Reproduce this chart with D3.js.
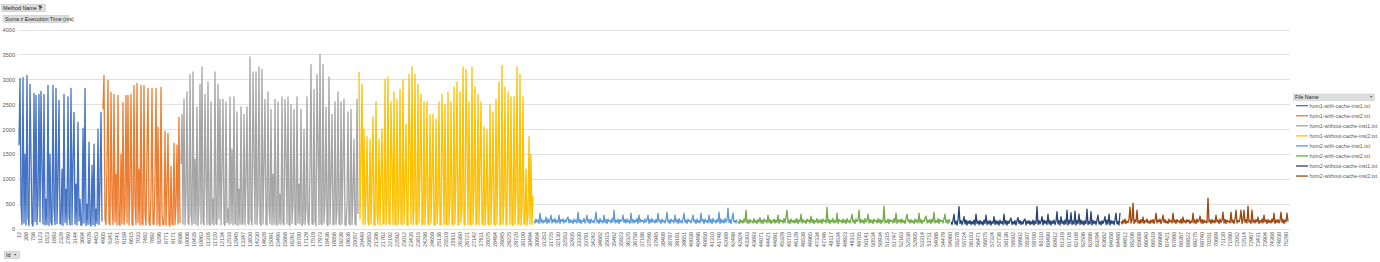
<!DOCTYPE html>
<html>
<head>
  <meta charset="utf-8"/>
  <title>Execution time</title>
  <style>
    body { margin: 0; background: #fff; }
    text { font-family: "Liberation Sans", Arial, sans-serif; }
  </style>
</head>
<body>
    <div id="graph"></div>
<script src="https://cdnjs.cloudflare.com/ajax/libs/d3/7.8.5/d3.min.js"></script>
<script>
    //series names and colours (legend order)
    var fileNames = ["hom1-with-cache-inst1.txt", "hom1-with-cache-inst2.txt",
                     "hom1-without-cache-inst1.txt", "hom1-without-cache-inst2.txt",
                     "hom2-with-cache-inst1.txt", "hom2-with-cache-inst2.txt",
                     "hom2-without-cache-inst1.txt", "hom2-without-cache-inst2.txt"];
    var colors = ["#4472c4", "#ed7d31", "#a5a5a5", "#ffc000",
                  "#5b9bd5", "#70ad47", "#264478", "#9e480e"];

    //execution time (ms), one value per id
    var hom1WithCacheInst1 = [
      1680,3020,520,90,3040,120,1500,80,3080,240,
      70,2900,1450,110,60,2720,150,2680,90,620,
      2700,140,2760,1200,100,2700,80,600,90,2880,
      70,1500,130,80,2880,400,90,2820,110,980,
      2580,120,90,1200,70,2700,130,800,90,2650,
      260,80,2820,90,1400,2340,100,900,80,2140,
      160,600,70,90,2020,120,2820,70,500,90,
      1740,120,60,1280,90,1700,60,400,110,2000,
      90,900,2340,150];
    var hom1WithCacheInst2 = [
      2400,3080,200,90,1300,2980,120,80,2740,600,
      90,2700,140,1100,80,2680,100,70,1500,110,
      2540,90,400,2680,120,2680,80,900,2700,100,
      70,2880,500,90,2920,130,1200,80,2880,100,
      90,2880,300,80,1600,2820,120,70,700,2820,
      100,90,1000,2820,80,2040,120,60,2840,300,
      80,100,1960,70,800,1920,90,60,1260,110,
      80,1720,90,500,1680,100,2240,120];
    var hom1WithoutCacheInst1 = [
      1300,2300,100,2600,80,700,2750,120,90,3100,
      300,80,3150,110,1400,90,2450,70,500,2900,
      100,3250,140,80,2700,1000,90,2950,120,70,
      2550,100,600,80,3150,110,90,2900,200,2600,
      80,1200,2600,100,70,2550,130,400,90,2650,
      110,1600,80,2650,120,90,2350,70,800,100,
      2450,90,130,2300,80,1000,2450,110,90,3450,
      200,80,3150,1500,100,3150,90,600,3250,120,
      70,3200,100,1300,2600,90,80,2750,400,110,
      2400,80,1100,90,2600,120,70,2550,100,700,
      90,2650,130,80,2600,1400,100,2650,90,70,
      2500,110,500,2400,90,80,2650,120,900,100,
      2400,70,110,2000,90,400,2650,130,80,1200,
      3300,100,90,2800,150,70,3100,1700,90,3500,
      110,80,3300,120,600,2450,90,70,3050,100,
      1000,2300,80,110,2550,90,400,2750,120,80,
      2550,100,1300,2600,90,70,500,2350,110,80,
      2400,90,700,1800,100,80,2600,300];
    var hom1WithoutCacheInst2 = [
      3150,200,1500,2900,100,2000,90,700,1850,120,
      80,1800,100,900,2250,90,70,2550,300,100,
      1800,80,1100,2000,90,120,3000,80,600,3050,
      100,90,2550,1300,80,2750,110,70,2600,90,
      500,2800,120,80,3000,100,900,2100,90,70,
      3100,1600,110,3250,80,400,3100,100,90,2900,
      130,1200,2700,80,110,2550,90,700,2550,100,
      80,2300,120,1000,2300,90,70,2200,110,500,
      2550,80,100,2700,1400,90,2500,110,80,2750,
      90,600,2550,120,70,2850,100,1100,2950,80,
      90,2750,130,400,3250,100,80,3200,1700,90,
      2550,110,70,3250,100,800,2850,90,120,2700,
      80,1300,2550,100,90,2050,70,500,2000,110,
      80,2500,90,900,2350,120,70,2600,100,1500,
      2950,80,110,3280,90,600,2850,100,80,2750,
      1200,90,2650,110,70,2650,100,800,3250,90,
      120,3100,80,400,2650,100,90,1200,80,300,
      1850,100,1500,90,650];
    var hom2WithCacheInst1 = [
      160,120,200,140,180,110,320,130,190,120,
      170,140,240,110,200,130,180,280,120,190,
      140,210,120,170,130,280,110,190,150,200,
      120,180,140,210,240,120,190,130,170,110,
      200,140,180,120,340,130,190,110,170,150,
      210,120,180,280,130,190,110,200,140,170,
      120,190,340,130,180,110,210,140,170,120,
      280,130,190,110,200,150,170,120,210,140,
      380,120,180,130,200,110,190,150,170,280,
      130,190,120,200,140,170,110,320,130,190,
      120,180,140,210,110,280,130,190,150,170,
      120,200,140,180,280,110,190,130,210,140,
      170,120,190,130,320,150,180,110,200,140,
      170,120,190,340,130,180,110,200,150,170,
      120,280,140,190,110,210,130,170,120,190,
      320,130,180,110,200,150,170,120,190,280,
      140,180,110,200,130,170,120,320,150,190,
      110,200,140,170,120,280,130,190,110,210,
      150,170,120,190,140,340,110,200,130,180,
      120,210,140,170,420,130,190,110,200,320,
      140,170,120,190];
    var hom2WithCacheInst2 = [
      150,110,190,130,170,120,200,140,380,120,
      180,110,190,140,160,120,210,130,170,110,
      190,140,230,120,180,110,200,150,170,120,
      280,130,190,110,170,140,200,120,180,130,
      280,110,190,150,170,120,210,130,240,380,
      120,180,110,200,140,170,120,190,130,210,
      110,180,140,300,120,190,130,170,110,200,
      150,180,120,260,130,190,110,170,140,210,
      120,180,130,190,110,200,150,170,120,440,
      130,190,110,180,140,210,120,170,130,320,
      110,190,150,170,120,200,130,180,110,210,
      140,170,120,190,300,130,180,110,200,150,
      170,380,120,190,130,180,110,210,140,170,
      300,120,190,130,180,110,200,150,170,120,
      210,130,190,110,180,140,460,120,170,130,
      200,110,190,150,170,120,210,130,320,110,
      180,140,190,120,200,130,170,110,210,300,
      150,180,120,190,130,170,110,200,140,180,
      120,320,130,190,110,170,150,210,260,120,
      180,130,190,110,200,140,340,120,170,130,
      210,110,190,150,170,120,200,300,130,180,
      110,190,140];
    var hom2WithoutCacheInst1 = [
      140,90,170,300,100,160,80,180,450,110,
      170,90,150,250,100,180,80,160,110,170,
      90,150,100,180,80,300,110,160,90,170,
      100,150,80,180,110,280,90,160,100,170,
      80,150,110,250,90,170,100,160,80,180,
      110,150,90,300,100,170,80,160,110,180,
      220,90,150,100,170,80,160,230,110,170,
      90,150,100,180,200,80,160,110,170,90,
      150,100,180,80,160,110,450,90,170,100,
      150,250,80,180,110,160,90,300,100,170,
      80,160,110,180,90,150,350,100,170,80,
      250,110,160,90,180,100,380,80,170,110,
      330,90,160,100,360,80,170,110,300,90,
      180,100,160,80,170,110,400,90,150,100,
      350,80,170,110,160,90,180,280,100,150,
      80,170,110,160,250,90,180,100,300,80,
      170,110,160,90,180,320,100,150,80,320];
    var hom2WithoutCacheInst2 = [
      150,100,180,120,200,110,160,130,190,440,
      120,170,520,110,180,140,380,120,170,110,
      190,130,240,110,170,140,200,120,160,110,
      180,130,190,110,170,320,120,180,140,200,
      110,170,280,130,190,120,160,110,200,140,
      170,120,320,130,180,110,190,140,160,120,
      200,110,240,130,170,120,190,140,180,110,
      160,130,320,120,180,110,200,140,170,260,
      120,190,110,180,130,160,120,620,140,180,
      110,190,130,170,120,280,140,180,110,200,
      130,170,340,120,190,110,180,140,160,120,
      340,130,180,110,190,380,120,170,140,200,
      380,110,180,380,130,190,120,460,140,170,
      110,380,130,180,120,190,140,240,110,170,
      130,200,120,280,140,180,110,190,130,170,
      120,200,140,320,110,180,130,190,120,170,
      340,130,190,110,180,140,320,150];

    //id labels shown on the category axis (every 7th id)
    var tickLabels = [
      12,388,756,1123,1523,1893,2328,2760,3144,3604,
      4076,4453,4905,5341,5741,6159,6615,7033,7482,7892,
      8296,8771,9171,9596,10006,10435,10863,11316,11720,12134,
      12533,12945,13347,13830,14230,14628,15091,15495,15868,16261,
      16700,17129,17519,17973,18436,18856,19236,19636,20057,20440,
      20853,21306,21762,22192,22592,23012,23435,23815,24298,24659,
      25136,25519,25911,26360,26721,27142,27611,28075,28464,28845,
      29225,29720,30109,30494,30954,31353,31725,32130,32553,32935,
      33330,33791,34242,34682,35015,35462,35923,36325,36758,37186,
      37546,37945,38408,38797,39181,39651,40038,40496,40850,41310,
      41746,42089,42498,42924,43303,43693,44071,44421,44891,45329,
      45710,46129,46538,46965,47334,47746,48117,48534,48923,49311,
      49705,50141,50534,50934,51315,51747,52163,52538,52905,53314,
      53711,54086,54479,54860,55278,55724,56103,56471,56875,57324,
      57736,58136,58502,58902,59307,59700,60110,60490,60912,61319,
      61716,62108,62506,62886,63294,63682,64058,64480,64812,65206,
      65608,66040,66519,66968,67421,67890,68367,68822,69275,69740,
      70201,70669,71130,71590,72052,72514,72967,73431,73904,74368,
      74830,75290];
    var labelEvery = 7;
    var yTicks = [0, 500, 1000, 1500, 2000, 2500, 3000, 3500, 4000];

    var series = [hom1WithCacheInst1, hom1WithCacheInst2, hom1WithoutCacheInst1, hom1WithoutCacheInst2,
                  hom2WithCacheInst1, hom2WithCacheInst2, hom2WithoutCacheInst1, hom2WithoutCacheInst2];
    var offsets = [], total = 0;
    series.forEach(function(s) { offsets.push(total); total += s.length; });

    var width = 1380, height = 262;
    var svg = d3.select("#graph").append("svg")
                .attr("width", width)
                .attr("height", height);

    var x = d3.scalePoint()
          .domain(d3.range(total))
          .range([19, 1288]);
    var y = d3.scaleLinear()
          .domain([0, 4000])
          .range([229, 29.5]);

    // gridlines
    svg.append("g").selectAll("line").data(yTicks).enter().append("line")
        .attr("x1", 18).attr("x2", 1290)
        .attr("y1", function(d) { return Math.round(y(d)) + 0.5; })
        .attr("y2", function(d) { return Math.round(y(d)) + 0.5; })
        .style("stroke", "#d9d9d9")
        .style("stroke-width", 0.8);

    // y axis labels
    var yAxis = svg.append("g")
        .attr("transform", "translate(15,0)")
        .call(d3.axisLeft(y).tickValues(yTicks).tickFormat(d3.format("d"))
              .tickSize(0).tickPadding(0));
    yAxis.select(".domain").remove();
    yAxis.selectAll("text")
        .style("font-size", "5.6px")
        .style("fill", "#595959")
        .style("font-family", "'Liberation Sans', Arial, sans-serif");

    // x axis (id categories)
    var tickIdx = tickLabels.map(function(d, i) { return i * labelEvery; });
    var xAxis = svg.append("g")
        .attr("transform", "translate(0,229)")
        .call(d3.axisBottom(x).tickValues(tickIdx)
              .tickFormat(function(d) { return tickLabels[d / labelEvery]; })
              .tickSize(0));
    xAxis.select(".domain").remove();
    xAxis.selectAll("text")
        .attr("transform", "rotate(-90)")
        .attr("x", -3)
        .attr("y", 0)
        .attr("dy", "0.35em")
        .style("text-anchor", "end")
        .style("font-size", "5.4px")
        .style("fill", "#595959")
        .style("font-family", "'Liberation Sans', Arial, sans-serif");

    // lines
    series.forEach(function(s, k) {
      var line = d3.line()
          .x(function(d, i) { return x(offsets[k] + i); })
          .y(function(d) { return y(d); });
      svg.append("path")
          .datum(s)
          .attr("d", line)
          .style("fill", "none")
          .style("stroke", colors[k])
          .style("stroke-width", 1.3)
          .style("stroke-linejoin", "round");
    });

    // pivot field buttons
    function fieldButton(bx, by, bw, label, arrow) {
      var g = svg.append("g");
      g.append("rect")
          .attr("x", bx + 0.5).attr("y", by + 0.5)
          .attr("width", bw).attr("height", 7)
          .style("fill", "#dedede")
          .style("stroke", "#c4c4c4")
          .style("stroke-width", 0.6);
      g.append("text")
          .attr("x", bx + 2).attr("y", by + 6)
          .style("font-size", "5.4px")
          .style("fill", "#262626")
          .text(label);
      if (arrow) {
        g.append("path")
            .attr("d", "M" + (bx + bw - 5) + "," + (by + 3) + "l2.5,0l-1.25,1.6z")
            .style("fill", "#404040");
      }
      return g;
    }
    var mb = fieldButton(1, 4, 44, "Method Name", true);
    mb.append("path")
        .attr("d", "M38,5.5l4,0l-1.5,2l0,2.5l-1,0l0,-2.5z")
        .style("fill", "#404040");
    fieldButton(3, 15, 65, "Suma z Execution Time (ms)", false);
    fieldButton(4, 251, 15, "Id", true);

    // legend
    var legend = svg.append("g");
    legend.append("rect")
        .attr("x", 1293.5).attr("y", 94)
        .attr("width", 81).attr("height", 6.5)
        .style("fill", "#dedede")
        .style("stroke", "#c4c4c4")
        .style("stroke-width", 0.5);
    legend.append("text")
        .attr("x", 1295).attr("y", 99.3)
        .style("font-size", "5.2px")
        .style("fill", "#262626")
        .text("File Name");
    legend.append("path")
        .attr("d", "M1370,96.3l2.4,0l-1.2,1.5z")
        .style("fill", "#404040");
    var items = legend.selectAll("g.item").data(fileNames).enter().append("g")
        .attr("class", "item")
        .attr("transform", function(d, i) { return "translate(0," + (105.7 + i * 10.05) + ")"; });
    items.append("line")
        .attr("x1", 1296).attr("x2", 1308)
        .style("stroke", function(d, i) { return colors[i]; })
        .style("stroke-width", 1.3);
    items.append("text")
        .attr("x", 1309.5).attr("y", 1.9)
        .style("font-size", "5.3px")
        .style("fill", "#595959")
        .text(function(d) { return d; });
</script>
</body>
</html>
